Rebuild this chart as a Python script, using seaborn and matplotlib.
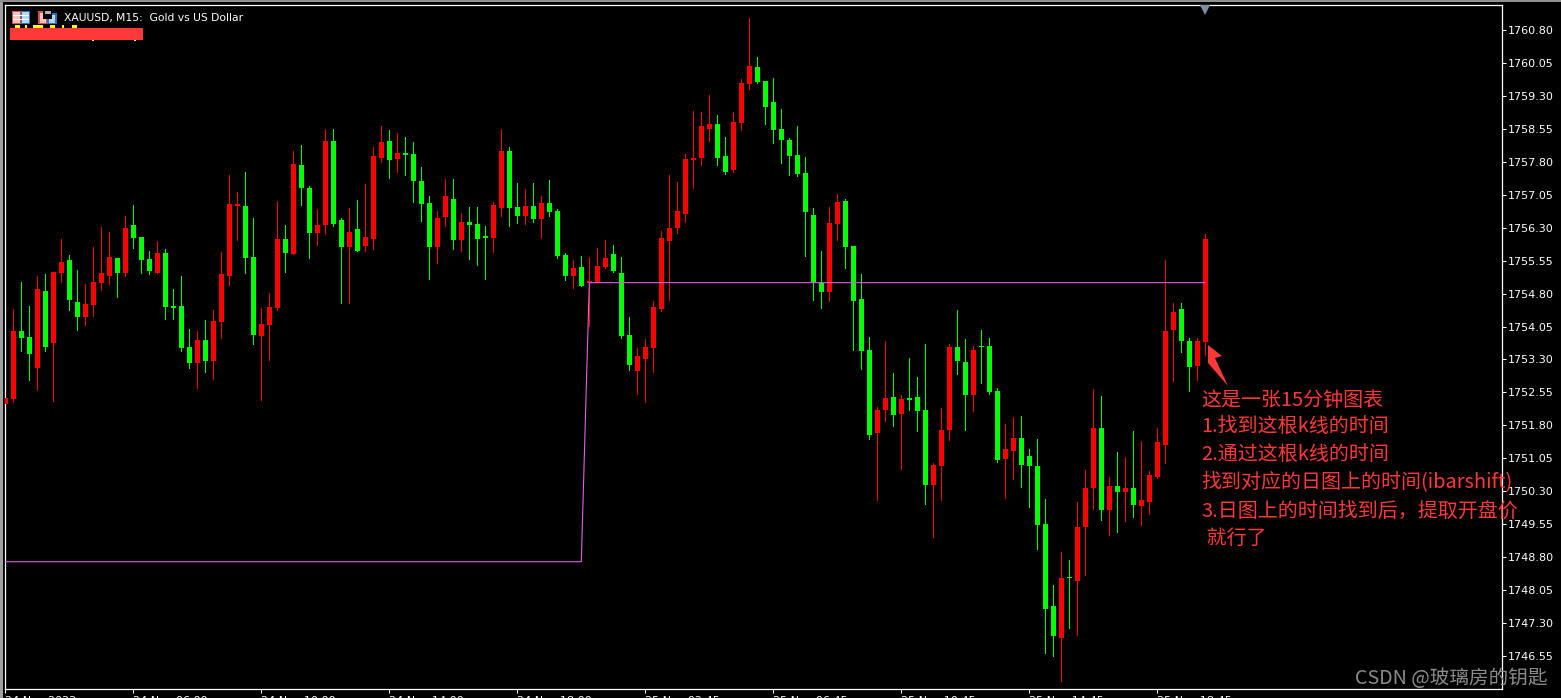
import numpy as np
import pandas as pd
import matplotlib
matplotlib.use("Agg")
import matplotlib.pyplot as plt
from matplotlib.patches import Polygon, Rectangle
import seaborn as sns

# --- candle data (15 minute bars) ---
candle_colors = (
    "rrggrgrrgg" "rrrrgrgggr" "ggggrgrrrr" "ggrrrgrggr" "rggrgrrrgr"
    "ggggrrgrgg" "grrggrgrgg" "grgrrrgggr" "rrrrrrrrrg" "grrrgggggg"
    "gggrrggggr" "rgrgggrrrg" "grgggrrggg" "ggrgrrrgrg" "rgrrrrrggr" "r"
)
highs = [
    1752.41, 1754.45, 1755.07, 1754.52, 1755.20, 1755.25, 1755.29, 1756.05, 1755.68, 1755.34,
    1755.02, 1755.86, 1756.32, 1756.21, 1755.61, 1756.57, 1756.82, 1756.09, 1755.77, 1756.00,
    1755.82, 1754.91, 1755.20, 1753.99, 1753.95, 1754.20, 1754.43, 1755.75, 1757.51, 1757.12,
    1757.57, 1756.53, 1754.47, 1754.82, 1756.91, 1756.37, 1758.05, 1758.19, 1757.26, 1756.73,
    1758.55, 1758.55, 1756.53, 1756.75, 1756.94, 1757.30, 1758.14, 1758.62, 1758.53, 1758.46,
    1758.37, 1758.26, 1757.69, 1757.03, 1756.69, 1757.41, 1757.41, 1756.64, 1756.78, 1756.78,
    1756.34, 1756.89, 1758.55, 1758.14, 1757.32, 1757.19, 1757.32, 1757.03, 1757.39, 1756.73,
    1755.73, 1755.57, 1755.66, 1755.64, 1755.84, 1756.03, 1755.91, 1755.64, 1754.27, 1753.56,
    1753.77, 1754.64, 1756.23, 1757.51, 1757.35, 1757.99, 1758.97, 1758.94, 1759.33, 1758.88,
    1758.37, 1758.94, 1759.70, 1761.09, 1760.20, 1759.65, 1759.72, 1759.01, 1758.35, 1758.63,
    1757.92, 1756.76, 1755.78, 1756.78, 1757.07, 1756.96, 1755.89, 1755.25, 1753.81, 1752.21,
    1753.72, 1752.99, 1752.49, 1753.33, 1752.90, 1753.65, 1750.94, 1752.19, 1753.65, 1754.42,
    1753.76, 1753.60, 1753.97, 1753.79, 1752.65, 1751.82, 1751.98, 1752.01, 1751.25, 1751.48,
    1750.13, 1748.17, 1748.92, 1748.72, 1750.04, 1750.79, 1752.62, 1752.46, 1750.61, 1751.20,
    1751.07, 1751.66, 1751.45, 1750.75, 1751.73, 1755.56, 1754.58, 1754.58, 1753.78, 1753.78,
    1756.17,
]
body_tops = [
    1752.41, 1753.95, 1753.95, 1753.81, 1754.91, 1754.86, 1755.29, 1755.52, 1755.57, 1754.61,
    1754.56, 1755.07, 1755.27, 1755.64, 1755.61, 1756.30, 1756.37, 1756.09, 1755.59, 1755.73,
    1755.73, 1754.52, 1754.52, 1753.58, 1753.74, 1753.74, 1754.18, 1755.25, 1756.84, 1756.84,
    1756.80, 1755.64, 1754.11, 1754.50, 1756.05, 1756.05, 1757.76, 1757.73, 1757.21, 1756.37,
    1758.28, 1758.28, 1756.48, 1756.21, 1756.27, 1756.09, 1757.94, 1758.26, 1758.28, 1758.01,
    1758.01, 1757.98, 1757.37, 1756.87, 1756.53, 1757.03, 1756.96, 1756.43, 1756.43, 1756.39,
    1756.12, 1756.82, 1758.05, 1758.05, 1756.78, 1756.80, 1756.80, 1756.87, 1756.87, 1756.69,
    1755.68, 1755.39, 1755.41, 1755.09, 1755.43, 1755.62, 1755.71, 1755.27, 1753.86, 1753.38,
    1753.59, 1754.50, 1756.07, 1756.30, 1756.69, 1757.87, 1757.90, 1758.63, 1758.67, 1758.67,
    1757.94, 1758.72, 1759.61, 1759.99, 1759.97, 1759.65, 1759.17, 1758.56, 1758.31, 1757.96,
    1757.55, 1756.60, 1755.05, 1756.41, 1756.89, 1756.92, 1755.89, 1754.68, 1753.51, 1752.14,
    1752.42, 1752.44, 1752.39, 1752.42, 1752.44, 1752.14, 1750.89, 1751.69, 1753.58, 1753.58,
    1753.24, 1753.51, 1753.60, 1753.60, 1752.58, 1751.25, 1751.51, 1751.51, 1751.11, 1750.86,
    1749.54, 1747.67, 1748.31, 1748.33, 1749.47, 1750.38, 1751.73, 1751.73, 1750.41, 1750.41,
    1750.36, 1750.36, 1750.09, 1750.66, 1751.41, 1753.94, 1754.37, 1754.46, 1753.73, 1753.71,
    1756.04,
]
body_bottoms = [
    1752.28, 1752.40, 1753.79, 1753.42, 1753.11, 1753.58, 1753.68, 1755.27, 1754.66, 1754.27,
    1754.27, 1754.54, 1755.04, 1755.20, 1755.27, 1755.27, 1756.07, 1755.57, 1755.32, 1755.27,
    1754.50, 1754.47, 1753.56, 1753.22, 1753.22, 1753.27, 1753.27, 1754.15, 1755.20, 1756.80,
    1755.61, 1753.86, 1753.84, 1754.09, 1754.47, 1755.73, 1755.70, 1757.21, 1756.18, 1756.18,
    1756.37, 1756.39, 1755.86, 1755.86, 1755.77, 1755.89, 1756.05, 1757.89, 1757.85, 1757.87,
    1757.96, 1757.37, 1756.84, 1755.86, 1755.86, 1756.55, 1756.02, 1756.02, 1756.37, 1756.05,
    1756.07, 1756.07, 1756.75, 1756.75, 1756.57, 1756.57, 1756.50, 1756.50, 1756.66, 1755.66,
    1755.20, 1755.21, 1754.98, 1755.05, 1755.07, 1755.41, 1755.32, 1753.84, 1753.18, 1753.04,
    1753.31, 1753.56, 1754.45, 1756.00, 1756.30, 1756.62, 1757.85, 1757.90, 1758.56, 1757.90,
    1757.58, 1757.62, 1758.69, 1759.58, 1759.63, 1759.06, 1758.53, 1758.31, 1757.94, 1757.53,
    1756.66, 1755.07, 1754.84, 1754.84, 1756.39, 1755.87, 1754.64, 1753.50, 1751.57, 1751.62,
    1752.14, 1752.03, 1752.05, 1752.37, 1752.12, 1750.43, 1750.43, 1750.87, 1751.69, 1753.26,
    1752.49, 1752.49, 1753.58, 1752.55, 1751.00, 1751.03, 1751.21, 1750.89, 1750.88, 1749.52,
    1747.62, 1746.99, 1746.94, 1748.31, 1748.26, 1749.47, 1750.38, 1749.86, 1749.86, 1750.27,
    1750.27, 1749.99, 1749.97, 1750.04, 1750.63, 1751.36, 1753.96, 1753.71, 1753.12, 1753.16,
    1753.69,
]
lows = [
    1752.28, 1752.33, 1753.49, 1752.83, 1752.60, 1753.49, 1752.35, 1755.07, 1754.43, 1753.97,
    1754.09, 1754.29, 1754.88, 1755.02, 1754.72, 1755.20, 1755.84, 1755.27, 1755.25, 1755.27,
    1754.22, 1754.22, 1753.49, 1753.11, 1752.65, 1753.01, 1752.85, 1753.79, 1755.00, 1756.02,
    1755.27, 1753.65, 1752.38, 1753.29, 1754.43, 1755.29, 1755.70, 1756.82, 1755.61, 1755.91,
    1756.16, 1756.34, 1754.59, 1754.59, 1755.77, 1755.77, 1755.82, 1757.80, 1757.44, 1757.57,
    1757.51, 1756.89, 1756.46, 1755.13, 1755.50, 1756.34, 1755.82, 1755.77, 1755.59, 1755.45,
    1755.13, 1755.75, 1756.57, 1756.34, 1756.41, 1756.39, 1756.43, 1756.07, 1756.57, 1755.61,
    1755.11, 1754.93, 1754.98, 1754.07, 1755.07, 1755.39, 1755.30, 1753.79, 1753.06, 1752.51,
    1752.33, 1753.02, 1754.41, 1754.66, 1756.19, 1756.44, 1757.21, 1757.74, 1758.28, 1757.74,
    1757.53, 1757.58, 1758.53, 1759.47, 1759.61, 1758.67, 1758.24, 1757.78, 1757.51, 1757.49,
    1755.66, 1754.66, 1754.48, 1754.64, 1756.03, 1755.39, 1753.52, 1753.08, 1751.48, 1750.09,
    1751.89, 1751.78, 1750.80, 1752.14, 1751.67, 1750.00, 1749.25, 1750.09, 1751.46, 1752.96,
    1751.69, 1752.12, 1752.76, 1752.51, 1750.96, 1750.14, 1750.57, 1750.39, 1749.93, 1748.99,
    1746.62, 1746.55, 1745.96, 1747.17, 1747.03, 1748.38, 1749.90, 1749.65, 1749.29, 1749.36,
    1749.61, 1749.72, 1749.52, 1749.77, 1750.59, 1750.93, 1752.80, 1753.46, 1752.59, 1752.84,
    1753.39,
]

# daily open line
open_bars = [0, 72, 73, 150]
open_prices = [1748.69, 1748.69, 1755.05, 1755.05]

price_ticks = [1746.55, 1747.30, 1748.05, 1748.80, 1749.55, 1750.30, 1751.05, 1751.80, 1752.55, 1753.30,
               1754.05, 1754.80, 1755.55, 1756.30, 1757.05, 1757.80, 1758.55, 1759.30, 1760.05, 1760.80]
time_bars = [0, 16, 32, 48, 64, 80, 96, 112, 128, 144]
time_labels = ["24 Nov 2022", "24 Nov 06:00", "24 Nov 10:00", "24 Nov 14:00", "24 Nov 18:00",
               "25 Nov 02:45", "25 Nov 06:45", "25 Nov 10:45", "25 Nov 14:45", "25 Nov 18:45"]

note_lines = ["这是一张15分钟图表", "1.找到这根k线的时间", "2.通过这根k线的时间",
              "找到对应的日图上的时间(ibarshift)", "3.日图上的时间找到后，提取开盘价", " 就行了"]

W, H = 1561, 698
RED_NOTE = "#ff3838"

sns.set_theme(style="dark", rc={"axes.facecolor": "black", "figure.facecolor": "black",
                                "axes.edgecolor": "white", "xtick.color": "white", "ytick.color": "white"})
plt.rcParams["font.family"] = ["DejaVu Sans", "Noto Sans CJK SC"]

candles = pd.DataFrame({"bar": np.arange(len(highs)), "color": list(candle_colors), "high": highs,
                        "top": body_tops, "bottom": body_bottoms, "low": lows})
candles["height"] = candles["top"] - candles["bottom"]

fig = plt.figure(figsize=(W / 100, H / 100), dpi=100)
ax = fig.add_axes([5.3 / W, 1 - 688.5 / H, (1501.5 - 5.3) / W, (688.5 - 4.5) / H])


def fig_xy(x, y):
    return x / W, 1 - y / H


palette = {"r": "#ff0000", "g": "#00ff00"}
for key, part in candles.groupby("color"):
    ax.vlines(part["bar"], part["low"], part["high"], color=palette[key], lw=0.72, antialiased=False, zorder=2)
    sns.barplot(data=part, x="bar", y="height", bottom=part["bottom"].to_numpy(), native_scale=True,
                width=0.625, color=palette[key], saturation=1, errorbar=None, linewidth=0,
                antialiased=False, ax=ax, zorder=3)

sns.lineplot(x=open_bars, y=open_prices, color="#e060e0", lw=0.8, estimator=None, errorbar=None, ax=ax, zorder=4)

ax.set_xlim(0, (1501.5 - 5.3) / 8)
ax.set_ylim(1745.80, 1761.39)
ax.set_xlabel("")
ax.set_ylabel("")
ax.grid(False)
for spine in ax.spines.values():
    spine.set_color("white")
    spine.set_linewidth(0.9)

ax.yaxis.tick_right()
ax.set_yticks(price_ticks)
ax.set_yticklabels([f"{p:.2f}" for p in price_ticks], fontsize=8, color="white")
ax.set_xticks(time_bars)
ax.set_xticklabels(time_labels, fontsize=8, color="white", ha="left")
ax.tick_params(axis="y", length=3, width=0.72, pad=1.5, right=True, color="white")
ax.tick_params(axis="x", length=3, width=0.72, pad=2.5, bottom=True, color="white")

# shift marker on top of the chart
ax.plot([150], [0.9925], marker="v", ms=7, color="#7d90a4", mew=0, clip_on=False,
        transform=ax.get_xaxis_transform(), zorder=5)

# window edge
fig.add_artist(Rectangle((0, 0), 3 / W, 1, transform=fig.transFigure, fc="#a0a0a0", ec="none"))
fig.add_artist(Rectangle((0, 1 - 2 / H), 1, 2 / H, transform=fig.transFigure, fc="#909090", ec="none"))


def px_rect(x0, y0, x1, y1, color):
    fig.add_artist(Rectangle(fig_xy(x0, y1), (x1 - x0) / W, (y1 - y0) / H, transform=fig.transFigure,
                             fc=color, ec="none", zorder=6))


# header icon: table
px_rect(12, 11, 21, 24, "#d8503f")
px_rect(21, 11, 30, 24, "#2f70b8")
px_rect(13, 12, 20, 23, "#f6c4bc")
px_rect(22, 12, 29, 23, "#b4d8f4")
for gy in (15, 19):
    px_rect(13, gy, 29, gy + 1, "#ffffff")
# header icon: floppy
px_rect(38, 11, 47, 24, "#d8503f")
px_rect(40, 13, 46, 23, "#f6c4bc")
px_rect(47, 13, 57, 24, "#2f70b8")
px_rect(49, 15, 55, 23, "#b4d8f4")
px_rect(43, 11, 52, 19, "#000000")
px_rect(45, 11, 51, 14, "#b0b0b0")

fig.text(*fig_xy(64, 18.5), "XAUUSD, M15:  Gold vs US Dollar", color="white", fontsize=7.75, va="center", ha="left")

# yellow scraps of the comment that stick out from behind the red block
for x0, x1 in [(15, 20), (25, 27), (33, 43), (50, 55), (62, 64), (72, 77)]:
    px_rect(x0, 25, x1, 28, "#ffff00")
for x0, x1 in [(92, 94), (134, 136)]:
    px_rect(x0, 39, x1, 41, "#ffff00")
px_rect(10, 28, 143, 39.5, RED_NOTE)

# arrow to the candle
arrow_px = [(1208, 345), (1222, 356), (1215, 358), (1228, 386), (1208, 363)]
fig.add_artist(Polygon([fig_xy(*p) for p in arrow_px], closed=True, transform=fig.transFigure,
                       fc=RED_NOTE, ec="none", zorder=7))

note_y = [400, 427, 455, 483, 511, 538]
for text, y in zip(note_lines, note_y):
    fig.text(*fig_xy(1201.5, y), text, color=RED_NOTE, fontsize=14.4, va="center", ha="left",
             family=["Noto Sans CJK SC", "DejaVu Sans"], zorder=8)

fig.text(*fig_xy(1355, 678), "CSDN @玻璃房的钥匙", color="#8c8c8c", fontsize=14.1, va="center", ha="left",
         family=["Noto Sans CJK SC", "DejaVu Sans"], zorder=8)

fig.savefig("out.png", dpi=100)
